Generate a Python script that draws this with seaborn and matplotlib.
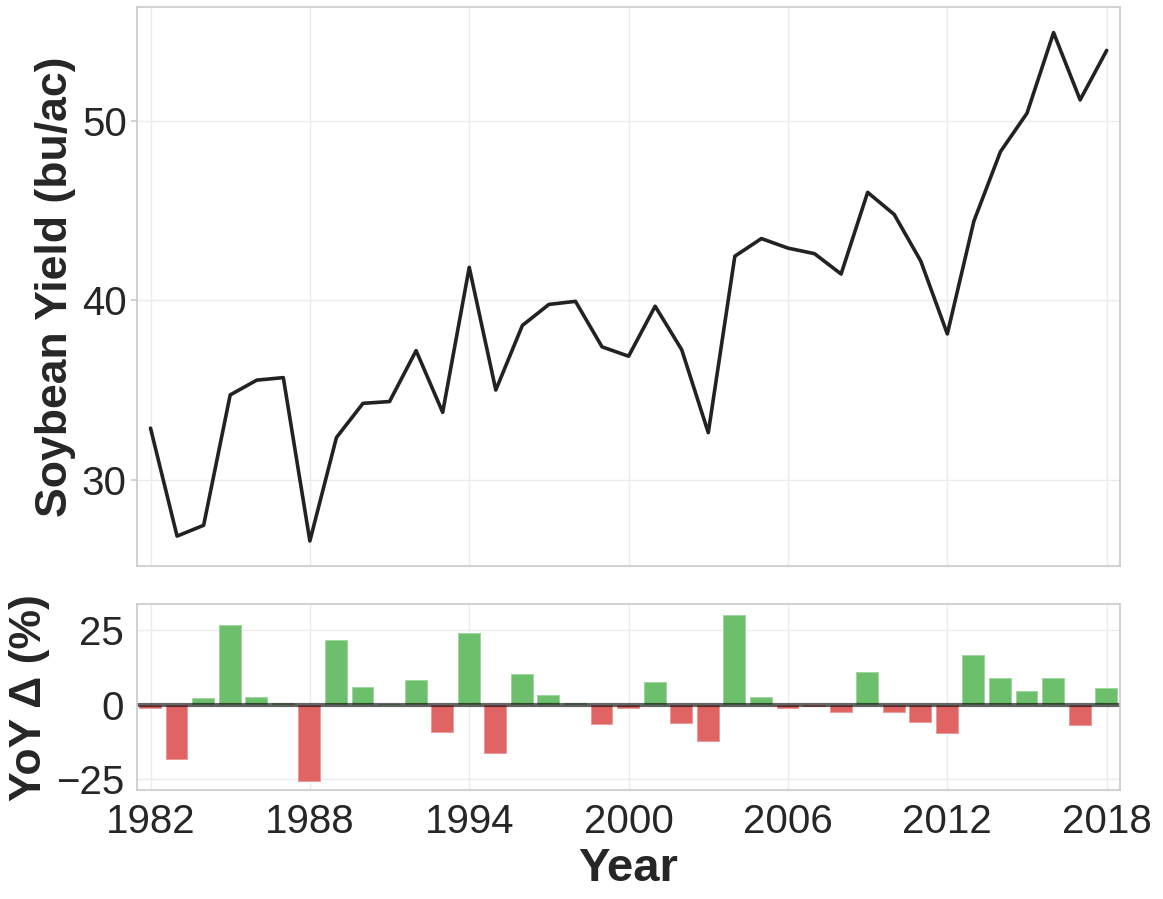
import numpy as np
import pandas as pd
import seaborn as sns
import matplotlib
matplotlib.use("Agg")
import matplotlib.pyplot as plt

# soybean yield (bu/ac)
years = list(range(1982, 2019))
yield_bu = [32.9, 26.9, 27.5, 34.75, 35.57, 35.71, 26.63, 32.38, 34.28, 34.38,
            37.21, 33.78, 41.84, 35.02, 38.61, 39.78, 39.95, 37.42, 36.9, 39.68,
            37.26, 32.65, 42.46, 43.44, 42.91, 42.6, 41.47, 46.01, 44.78, 42.19,
            38.14, 44.41, 48.27, 50.41, 54.89, 51.15, 53.9]
# year-over-year change (%)
yoy_pct = [-1.6, -18.7, 2.2, 26.6, 2.4, 0.4, -25.8, 21.6, 5.8, 0.3,
           8.4, -9.4, 24.0, -16.7, 10.3, 3.1, 0.4, -6.7, -1.6, 7.6,
           -6.4, -12.6, 30.2, 2.4, -1.5, -0.9, -2.9, 11.1, -2.9, -6.2,
           -10.0, 16.7, 8.8, 4.6, 9.0, -7.1, 5.5]

df = pd.DataFrame({"Year": years, "Yield": yield_bu, "YoY": yoy_pct})
df["sign"] = np.where(df["YoY"] >= 0, "up", "down")

sns.set_theme(style="whitegrid")
plt.rcParams["font.family"] = ["Liberation Sans", "DejaVu Sans"]
plt.rcParams["axes.edgecolor"] = "#cccccc"
plt.rcParams["grid.color"] = "#ebebeb"

fig = plt.figure(figsize=(11.63, 8.99), dpi=100)
ax1 = fig.add_axes([0.118, 0.370, 0.845, 0.622])
ax2 = fig.add_axes([0.118, 0.121, 0.845, 0.207], sharex=ax1)

sns.lineplot(data=df, x="Year", y="Yield", ax=ax1, color="#222222", linewidth=2.6)
ax1.set_ylabel("Soybean Yield (bu/ac)", fontsize=32, fontweight="bold")
ax1.set_xlabel("")
ax1.tick_params(axis="x", labelbottom=False)
ax1.tick_params(axis="y", labelsize=29, left=True, length=4, color="#cccccc")
ax1.set_yticks([30, 40, 50])

sns.barplot(data=df, x="Year", y="YoY", hue="sign", ax=ax2, native_scale=True,
            palette={"up": "#6cc06c", "down": "#e06464"}, saturation=1, dodge=False,
            legend=False, width=0.86, edgecolor=(1, 1, 1, 0.35), linewidth=1.5)
ax2.axhline(0, color="black", linewidth=3, alpha=0.6)
ax2.set_ylabel("YoY Δ (%)", fontsize=32, fontweight="bold")
ax2.set_xlabel("Year", fontsize=34, fontweight="bold")
ax2.set_yticks([-25, 0, 25])
ax2.tick_params(axis="both", labelsize=29)
ax2.set_xticks([1982, 1988, 1994, 2000, 2006, 2012, 2018])
ax2.set_xlim(1981.5, 2018.5)
ax2.set_ylim(-28.7, 33.7)

fig.align_ylabels([ax1, ax2])
fig.savefig("out.png", dpi=100)
